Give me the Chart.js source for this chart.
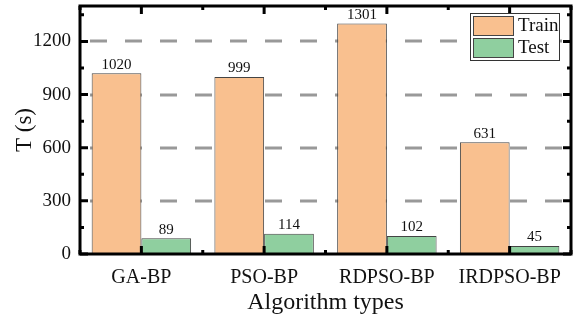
<!DOCTYPE html>
<html lang="en">
<head>
    <meta charset="UTF-8">
    <title>Training and test time</title>
    <script src="https://cdn.jsdelivr.net/npm/chart.js"></script>
    <style>
        html, body { margin: 0; padding: 0; background: #fff; }
        #wrap { width: 577px; height: 320px; }
    </style>
</head>
<body>
    <div id="wrap"><canvas id="myChart" width="577" height="320"></canvas></div>
    <script>
    const categories = ['GA-BP', 'PSO-BP', 'RDPSO-BP', 'IRDPSO-BP'];
    const trainTimes = [1020, 999, 1301, 631];
    const testTimes = [89, 114, 102, 45];
    const yTicks = [0, 300, 600, 900, 1200];

    const serif = '"Liberation Serif", "Times New Roman", serif';

    // dashed gridlines, frame with inward ticks, value labels and boxed legend
    const decorations = {
        id: 'decorations',
        beforeDatasetsDraw(chart) {
            const { ctx, chartArea: a, scales: { y } } = chart;
            ctx.save();
            ctx.strokeStyle = '#999999';
            ctx.lineWidth = 3;
            ctx.setLineDash([17, 18]);
            yTicks.forEach(v => {
                if (v === 0) return;
                const py = Math.round(y.getPixelForValue(v));
                ctx.beginPath();
                ctx.moveTo(a.left + 10, py);
                ctx.lineTo(a.right, py);
                ctx.stroke();
            });
            ctx.restore();
        },
        afterDatasetsDraw(chart) {
            const { ctx, chartArea: a, scales: { x, y } } = chart;
            ctx.save();

            // value labels
            ctx.fillStyle = '#111';
            ctx.font = '15px ' + serif;
            ctx.textAlign = 'center';
            ctx.textBaseline = 'bottom';
            chart.data.datasets.forEach((ds, i) => {
                chart.getDatasetMeta(i).data.forEach((bar, j) => {
                    ctx.fillText(ds.data[j], bar.x, bar.y - 1);
                });
            });

            // frame
            ctx.strokeStyle = '#000';
            ctx.lineWidth = 3;
            ctx.setLineDash([]);
            ctx.strokeRect(a.left, a.top, a.right - a.left, a.bottom - a.top);

            // y ticks, major every 300 and minor every 150
            for (let v = 0; v <= 1350; v += 150) {
                const py = y.getPixelForValue(v);
                const len = v % 300 === 0 ? 8 : 4;
                ctx.beginPath();
                ctx.moveTo(a.left, py); ctx.lineTo(a.left + len, py);
                ctx.moveTo(a.right, py); ctx.lineTo(a.right - len, py);
                ctx.stroke();
            }
            // x ticks, major at categories and minor between them
            const step = (a.right - a.left) / categories.length;
            for (let k = 0; k <= categories.length * 2; k++) {
                const px = a.left + k * step / 2;
                const len = k % 2 === 1 ? 8 : 4;
                ctx.beginPath();
                ctx.moveTo(px, a.bottom); ctx.lineTo(px, a.bottom - len);
                ctx.moveTo(px, a.top); ctx.lineTo(px, a.top + len);
                ctx.stroke();
            }

            // legend
            const lx = 470, ly = 13, lw = 89, lh = 47;
            ctx.fillStyle = '#fff';
            ctx.fillRect(lx, ly, lw, lh);
            ctx.lineWidth = 1;
            ctx.strokeStyle = '#333';
            ctx.strokeRect(lx + 0.5, ly + 0.5, lw, lh);
            ctx.font = '19px ' + serif;
            ctx.textAlign = 'left';
            ctx.textBaseline = 'middle';
            chart.data.datasets.forEach((ds, i) => {
                const sy = ly + 3 + i * 22;
                ctx.fillStyle = ds.backgroundColor;
                ctx.fillRect(lx + 3, sy, 40, 19);
                ctx.strokeStyle = '#444';
                ctx.strokeRect(lx + 3.5, sy + 0.5, 40, 19);
                ctx.fillStyle = '#111';
                ctx.fillText(ds.label, lx + 48, sy + 10);
            });
            ctx.restore();
        }
    };

    const ctx = document.getElementById('myChart').getContext('2d');
    new Chart(ctx, {
        type: 'bar',
        data: {
            labels: categories,
            datasets: [
                {
                    label: 'Train',
                    data: trainTimes,
                    backgroundColor: '#F9C08F',
                    borderColor: '#444',
                    borderWidth: 1
                },
                {
                    label: 'Test',
                    data: testTimes,
                    backgroundColor: '#8FCF9F',
                    borderColor: '#444',
                    borderWidth: 1
                }
            ]
        },
        options: {
            responsive: false,
            animation: false,
            layout: { padding: { top: 6, right: 6, left: 0, bottom: 0 } },
            datasets: {
                bar: { categoryPercentage: 0.81, barPercentage: 1 }
            },
            plugins: {
                legend: { display: false },
                tooltip: { enabled: false }
            },
            scales: {
                x: {
                    grid: { display: false },
                    border: { display: false },
                    ticks: {
                        color: '#111',
                        padding: 4,
                        font: { family: serif, size: 20 }
                    },
                    title: {
                        display: true,
                        text: 'Algorithm types',
                        color: '#111',
                        padding: { top: 0, bottom: 3 },
                        font: { family: serif, size: 24 }
                    },
                    afterFit: s => {
                        s.height = 66;
                        s.paddingLeft = 0; s.paddingRight = 0;
                    }
                },
                y: {
                    min: 0,
                    max: 1400,
                    afterBuildTicks: s => { s.ticks = yTicks.map(v => ({ value: v })); },
                    grid: { display: false, drawTicks: false },
                    border: { display: false },
                    ticks: {
                        color: '#111',
                        padding: 9,
                        font: { family: serif, size: 19 },
                        callback: v => String(v)
                    },
                    title: {
                        display: true,
                        text: 'T (s)',
                        color: '#111',
                        padding: { top: 11, bottom: 0 },
                        font: { family: serif, size: 23 }
                    },
                    afterFit: s => {
                        s.width = 80;
                        s.paddingTop = 0; s.paddingBottom = 0;
                    }
                }
            }
        },
        plugins: [decorations]
    });
    </script>
</body>
</html>
